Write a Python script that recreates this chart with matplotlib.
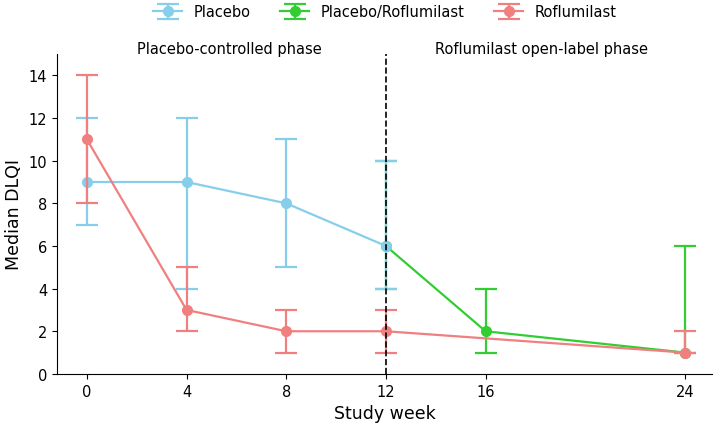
import matplotlib
matplotlib.use("Agg")
import matplotlib.pyplot as plt

weeks_placebo = [0, 4, 8, 12]
placebo_median = [9, 9, 8, 6]
placebo_low = [7, 4, 5, 4]
placebo_high = [12, 12, 11, 10]

weeks_switch = [12, 16, 24]
switch_median = [6, 2, 1]
switch_low = [4, 1, 1]
switch_high = [10, 4, 6]

weeks_rofl = [0, 4, 8, 12, 24]
rofl_median = [11, 3, 2, 2, 1]
rofl_low = [8, 2, 1, 1, 1]
rofl_high = [14, 5, 3, 3, 2]

xticks = [0, 4, 8, 12, 16, 24]


def err(med, lo, hi):
    return [[m - l for m, l in zip(med, lo)], [h - m for m, h in zip(med, hi)]]


fig = plt.figure(figsize=(7.17, 4.27), dpi=100)
ax = fig.add_axes([0.0795, 0.122, 0.914, 0.749])

series = [
    ("Placebo/Roflumilast", weeks_switch, switch_median, switch_low, switch_high, "limegreen", 1),
    ("Placebo", weeks_placebo, placebo_median, placebo_low, placebo_high, "skyblue", 2),
    ("Roflumilast", weeks_rofl, rofl_median, rofl_low, rofl_high, "lightcoral", 3),
]
handles = {}
for name, x, med, lo, hi, col, z in series:
    h = ax.errorbar(x, med, yerr=err(med, lo, hi), color=col, marker="o", markersize=7,
                    linewidth=1.6, capsize=8, elinewidth=1.6, capthick=1.6, zorder=z, label=name)
    handles[name] = h

ax.axvline(12, color="black", linestyle="--", linewidth=1.2, zorder=4)

ax.set_xlim(-1.2, 25.1)
ax.set_ylim(0, 15)
ax.set_xticks(xticks)
ax.set_yticks(range(0, 15, 2))
ax.tick_params(labelsize=10.5)
ax.set_xlabel("Study week", fontsize=12.5)
ax.set_ylabel("Median DLQI", fontsize=12.5)
ax.spines["top"].set_visible(False)
ax.spines["right"].set_visible(False)

ax.text(0.263, 1.016, "Placebo-controlled phase", transform=ax.transAxes,
        ha="center", va="center", fontsize=10.5)
ax.text(0.739, 1.016, "Roflumilast open-label phase", transform=ax.transAxes,
        ha="center", va="center", fontsize=10.5)

order = ["Placebo", "Placebo/Roflumilast", "Roflumilast"]
fig.legend([handles[n] for n in order], order, loc="upper center", ncol=3,
           frameon=False, fontsize=10.5, bbox_to_anchor=(0.537, 1.018), columnspacing=2.0)

fig.savefig("out.png", dpi=100)
